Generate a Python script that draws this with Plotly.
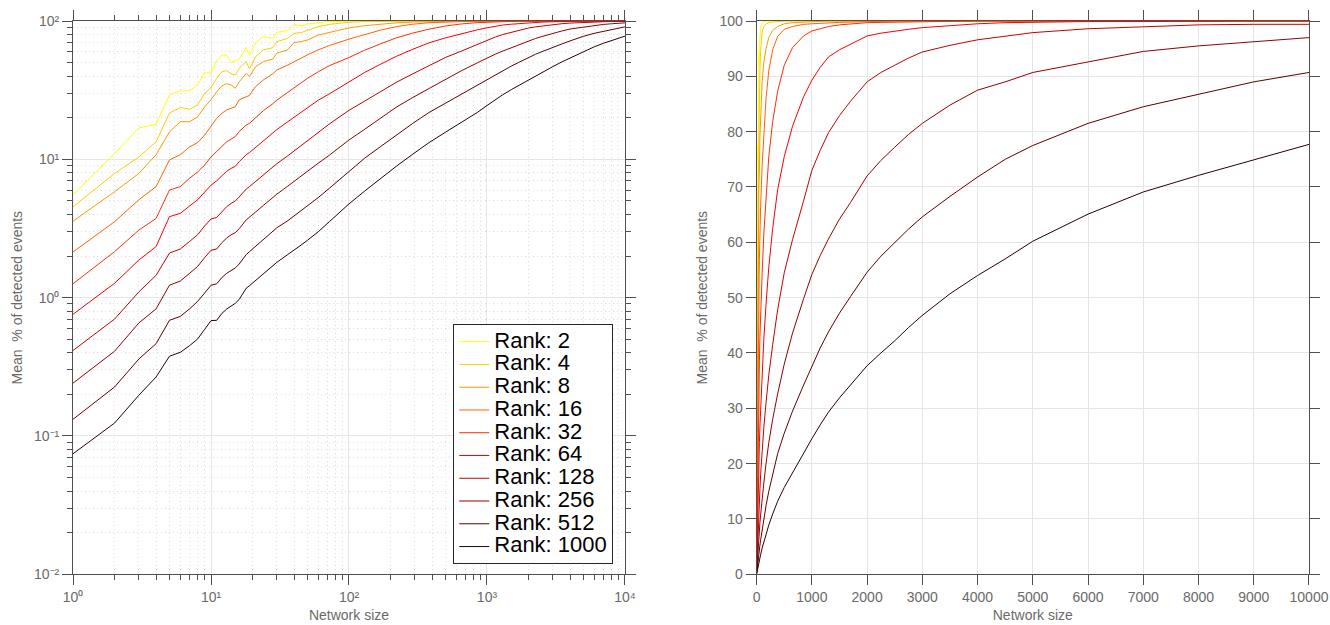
import plotly.graph_objects as go

# ---------------- data ----------------
sizes = [1, 2, 3, 4, 5, 6, 7, 8, 9, 10, 11, 12, 13, 14, 15, 16, 18, 19, 21, 24, 28, 30, 36, 40, 45, 50, 60, 72,
         100, 130, 170, 220, 290, 380, 500, 650, 850, 1000, 1150, 1300, 1500, 1700, 2000, 2250, 2500, 2750,
         3000, 3500, 4000, 4500, 5000, 6000, 7000, 8000, 9000, 10000]

ranks = [2, 4, 8, 16, 32, 64, 128, 256, 512, 1000]

rank2 = [5.55, 11.0, 16.9, 17.9, 29.3, 31.2, 31.3, 34.5, 42.3, 42.1, 51.7, 56.8, 56.6, 50.0, 51.6, 52.8, 64.2, 56.6,
         69.7, 77.5, 74.6, 82.8, 85.2, 94.5, 92.0, 95.4, 97.0, 98.9,
         99.6, 99.9, 100, 100, 100, 100, 100, 100, 100, 100, 100, 100, 100, 100, 100, 100, 100, 100,
         100, 100, 100, 100, 100, 100, 100, 100, 100, 100]
rank4 = [4.54, 7.9, 10.4, 13.4, 21.6, 23.7, 23.0, 24.7, 30.0, 33.0, 38.6, 43.0, 43.8, 41.5, 40.7, 45.5, 50.9, 45.0,
         55.0, 62.0, 64.0, 70.9, 75.0, 81.5, 82.5, 85.5, 91.0, 94.5,
         98.0, 99.0, 99.5, 99.7, 99.8, 99.9, 100, 100, 100, 100, 100, 100, 100, 100, 100, 100, 100, 100,
         100, 100, 100, 100, 100, 100, 100, 100, 100, 100]
rank8 = [3.57, 5.83, 7.9, 10.8, 15.8, 18.7, 18.7, 20.3, 24.0, 26.9, 30.8, 34.0, 35.3, 34.5, 32.6, 36.3, 41.8, 39.6,
         46.6, 50.9, 53.0, 58.5, 61.9, 69.9, 71.0, 72.8, 79.2, 82.8,
         89.1, 92.5, 95.0, 97.0, 98.3, 99.0, 99.5, 99.7, 99.8, 99.9, 99.95, 100, 100, 100, 100, 100, 100, 100,
         100, 100, 100, 100, 100, 100, 100, 100, 100, 100]
rank16 = [2.14, 3.54, 5.1, 6.35, 9.9, 10.8, 12.3, 13.2, 15.0, 17.2, 19.8, 21.5, 22.8, 23.4, 24.0, 26.9, 28.4, 29.0,
          33.5, 37.5, 41.5, 44.2, 48.0, 50.9, 54.0, 56.9, 61.9, 66.5,
          74.0, 80.0, 86.0, 91.0, 94.8, 97.2, 98.5, 99.0, 99.4, 99.5, 99.6, 99.7, 99.75, 99.8, 99.9, 99.9, 100, 100,
          100, 100, 100, 100, 100, 100, 100, 100, 100, 100]
rank32 = [1.26, 2.15, 3.08, 3.74, 6.0, 6.35, 7.3, 8.1, 9.1, 10.4, 11.4, 12.4, 13.4, 14.0, 14.6, 15.9, 17.7, 18.2,
          20.0, 22.5, 25.2, 26.8, 30.5, 33.0, 35.8, 38.5, 43.0, 47.5,
          54.5, 61.5, 68.5, 75.5, 81.8, 87.3, 92.0, 95.2, 97.3, 98.2, 98.6, 99.0, 99.3, 99.5, 99.7, 99.75, 99.8, 99.85,
          99.9, 100, 100, 100, 100, 100, 100, 100, 100, 100]
rank64 = [0.758, 1.27, 1.87, 2.34, 3.85, 4.07, 4.6, 5.1, 5.8, 6.5, 7.0, 7.6, 8.2, 8.6, 8.9, 9.6, 10.8, 11.2,
          12.2, 13.6, 15.5, 16.4, 18.7, 20.2, 22.0, 23.8, 26.8, 29.7,
          36.5, 42.5, 48.8, 55.5, 62.5, 69.5, 75.5, 81.0, 86.3, 89.3, 91.6, 93.5, 94.8, 95.8, 97.3, 97.8, 98.2, 98.5,
          98.8, 99.2, 99.5, 99.7, 99.8, 99.9, 99.9, 100, 100, 100]
rank128 = [0.415, 0.70, 1.1, 1.45, 2.1, 2.25, 2.55, 2.85, 3.3, 3.7, 3.8, 4.2, 4.55, 4.8, 5.0, 5.35, 6.1, 6.35,
           6.9, 7.7, 8.8, 9.3, 10.6, 11.5, 12.5, 13.5, 15.5, 18.0,
           22.6, 26.5, 31.0, 36.0, 41.5, 47.8, 54.5, 60.5, 67.5, 73.0, 76.6, 79.8, 82.9, 85.5, 89.0, 90.7, 92.0, 93.3,
           94.4, 95.6, 96.6, 97.2, 97.9, 98.6, 98.9, 99.3, 99.4, 99.4]
rank256 = [0.241, 0.41, 0.656, 0.83, 1.23, 1.32, 1.5, 1.68, 1.95, 2.2, 2.25, 2.5, 2.7, 2.85, 2.95, 3.15, 3.65, 3.8,
           4.15, 4.65, 5.3, 5.6, 6.4, 6.95, 7.6, 8.2, 9.4, 10.7,
           13.8, 16.5, 20.0, 23.8, 28.0, 32.6, 38.0, 43.6, 49.8, 54.2, 57.6, 60.6, 64.2, 67.2, 72.0, 74.8, 77.2, 79.5,
           81.5, 84.8, 87.5, 89.0, 90.7, 92.6, 94.5, 95.5, 96.2, 97.0]
rank512 = [0.132, 0.226, 0.36, 0.465, 0.686, 0.733, 0.83, 0.94, 1.08, 1.23, 1.26, 1.4, 1.5, 1.58, 1.64, 1.75, 2.05, 2.15,
           2.35, 2.65, 3.0, 3.2, 3.6, 3.9, 4.25, 4.6, 5.3, 6.17,
           8.2, 10.2, 12.4, 15.0, 18.2, 21.8, 25.5, 29.5, 34.2, 37.7, 40.9, 43.8, 47.2, 50.2, 54.6, 57.5, 60.0, 62.4,
           64.6, 68.3, 71.8, 75.0, 77.5, 81.5, 84.5, 86.8, 89.0, 90.7]
rank1000 = [0.0744, 0.124, 0.197, 0.267, 0.377, 0.403, 0.45, 0.503, 0.59, 0.682, 0.686, 0.77, 0.828, 0.875, 0.91, 0.97,
            1.17, 1.22, 1.33, 1.5, 1.7, 1.8, 2.05, 2.2, 2.4, 2.6, 3.0, 3.54,
            4.76, 5.9, 7.3, 8.9, 10.9, 13.2, 15.7, 18.4, 21.8, 24.5, 27.0, 29.3, 31.9, 34.2, 37.7, 40.0, 42.2, 44.6,
            46.8, 50.7, 54.0, 57.0, 60.2, 65.1, 69.1, 72.1, 74.9, 77.7]

series = [rank2, rank4, rank8, rank16, rank32, rank64, rank128, rank256, rank512, rank1000]

colors = ['#ffff00', '#ffcb00', '#ff9700', '#ff6300', '#ff2e00',
          '#f90000', '#c50000', '#910000', '#5d0000', '#290000']

log_ticks_x = [1, 10, 100, 1000, 10000]
log_ticktext_x = ['10\u2070', '10\u00b9', '10\u00b2', '10\u00b3', '10\u2074']
log_ticks_y = [0.01, 0.1, 1, 10, 100]
log_ticktext_y = ['10\u207b\u00b2', '10\u207b\u00b9', '10\u2070', '10\u00b9', '10\u00b2']

# ---------------- figure ----------------
fig = go.Figure()
for r, vals, col in zip(ranks, series, colors):
    fig.add_trace(go.Scatter(
        x=sizes, y=vals, mode='lines', line=dict(color=col, width=1),
        name='<span style="font-size:22px">Rank: %d</span>' % r,
        xaxis='x', yaxis='y', showlegend=True))
for r, vals, col in zip(ranks, series, colors):
    fig.add_trace(go.Scatter(
        x=sizes, y=vals, mode='lines', line=dict(color=col, width=1),
        xaxis='x2', yaxis='y2', showlegend=False))

minor_x = [m * 10 ** e for e in range(0, 4) for m in range(2, 10)]
minor_y = [m * 10.0 ** e for e in range(-2, 2) for m in range(2, 10)]

axcol = '#505050'
fam = 'Liberation Sans, Arial, sans-serif'
tickfont = dict(family=fam, size=14, color='#6a6a6a')
titlefont = dict(family=fam, size=14, color='#6a6a6a')

common = dict(showline=True, linecolor=axcol, linewidth=1, mirror='allticks',
              ticks='outside', ticklen=10, tickwidth=1, tickcolor=axcol,
              tickfont=tickfont, zeroline=False, showgrid=True,
              gridcolor='#e6e6e6', gridwidth=1, automargin=False)

minor_common = dict(ticks='outside', ticklen=5, tickwidth=1, tickcolor=axcol,
                    showgrid=True, gridcolor='#dedede', griddash='1px,3px', gridwidth=1)

fig.update_layout(
    width=1330, height=625,
    margin=dict(l=0, r=0, t=0, b=0),
    paper_bgcolor='white', plot_bgcolor='white',
    font=dict(family=fam),
    xaxis=dict(common, domain=[0.0549, 0.4699], type='log', range=[0, 4],
               tickmode='array', tickvals=log_ticks_x, ticktext=log_ticktext_x,
               minor=dict(minor_common, tickmode='array', tickvals=minor_x),
               anchor='y',
               title=dict(text='Network size', font=titlefont, standoff=6)),
    yaxis=dict(common, domain=[0.0811, 0.9664], type='log', range=[-2, 2],
               tickmode='array', tickvals=log_ticks_y, ticktext=log_ticktext_y,
               minor=dict(minor_common, tickmode='array', tickvals=minor_y),
               anchor='x',
               title=dict(text='Mean\u00a0 % of detected events', font=titlefont, standoff=8)),
    xaxis2=dict(common, domain=[0.5689, 0.9842], range=[0, 10000],
                tickmode='linear', tick0=0, dtick=1000, tickformat='d', anchor='y2',
                title=dict(text='Network size', font=titlefont, standoff=6)),
    yaxis2=dict(common, domain=[0.0811, 0.9664], range=[0, 100],
                tickmode='linear', tick0=0, dtick=10, anchor='x2',
                title=dict(text='Mean\u00a0 % of detected events', font=titlefont, standoff=8)),
    legend=dict(x=0.3408, y=0.4811, xanchor='left', yanchor='top',
                bgcolor='white', bordercolor='#262626', borderwidth=1,
                font=dict(family=fam, size=15.2, color='black'),
                itemwidth=30, tracegroupgap=0),
)

fig.write_html('out.html')
